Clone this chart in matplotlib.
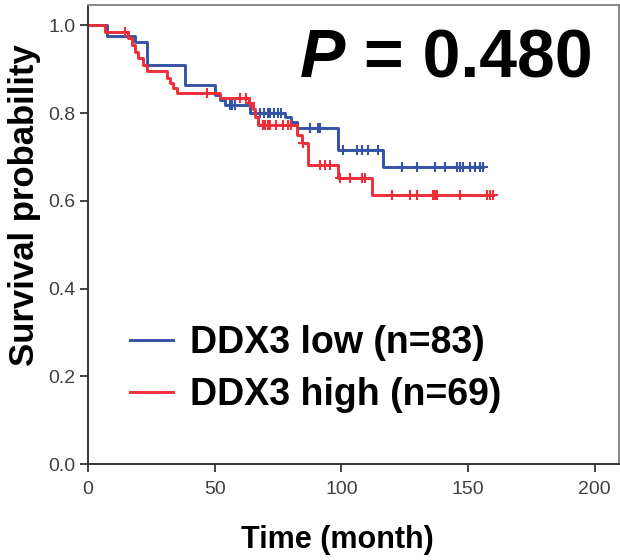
import numpy as np
import matplotlib.pyplot as plt

plt.rcParams['font.family'] = ['Liberation Sans', 'DejaVu Sans']

# Kaplan-Meier step data (time in months, survival after the step)
low_times = [0, 7.5, 18.5, 23.3, 38.3, 50, 52, 54, 64, 77.7, 80, 82.5, 98.7, 116.4, 156]
low_surv = [1.0, 0.976, 0.962, 0.909, 0.863, 0.840, 0.829, 0.818, 0.800, 0.790, 0.779,
            0.765, 0.715, 0.677, 0.677]
low_censor = [56, 57, 58, 68, 69.5, 71, 72, 73.5, 75, 76, 87.6, 90.8, 91.6,
              100.6, 106, 108, 110.5, 114.4, 124, 130, 137, 141, 145.6, 146.8,
              148, 150.7, 152.7, 154.7, 156]

high_times = [0, 6.7, 15.8, 17.4, 18.5, 19.7, 21.7, 23.3, 31.2, 32.4, 33.5, 35.1, 52,
              63.5, 65, 66, 67, 82.5, 84.5, 87, 98.7, 112, 160]
high_surv = [1.0, 0.985, 0.970, 0.955, 0.940, 0.925, 0.910, 0.895, 0.879, 0.868, 0.856,
             0.845, 0.834, 0.822, 0.810, 0.790, 0.772, 0.749, 0.731, 0.681, 0.651,
             0.613, 0.613]
high_censor = [14.6, 47, 60, 62.5, 64, 69, 70, 71, 72, 74, 77, 79, 80, 85,
               91.5, 93.5, 95.5, 99.5, 103.4, 108, 109.3, 120, 127, 130, 136, 137,
               137.7, 146.8, 157.5, 158.6, 160]

labels = ['DDX3 low (n=83)', 'DDX3 high (n=69)']
colors = ['#3553a6', '#ee2e38']
p_label = '0.480'


def surv_at(times, surv, t):
    idx = np.searchsorted(times, t, side='right') - 1
    return np.asarray(surv)[idx]


fig = plt.figure(figsize=(6.2, 5.6), dpi=100)
ax = fig.add_axes([0.142, 0.171, 0.856, 0.820])

groups = [(low_times, low_surv, low_censor), (high_times, high_surv, high_censor)]
for (times, surv, cens), lab, col in zip(groups, labels, colors):
    ax.step(times, surv, where='post', color=col, lw=2.1, label=lab)
    ax.plot(cens, surv_at(times, surv, cens), ls='none', marker='+',
            ms=7, mew=1.5, color=col)

ax.set_xlim(0, 209.5)
ax.set_ylim(0, 1.046)
ax.set_xticks([0, 50, 100, 150, 200])
ax.set_yticks([0.0, 0.2, 0.4, 0.6, 0.8, 1.0])
ax.set_yticklabels(['0.0', '0.2', '0.4', '0.6', '0.8', '1.0'])
ax.tick_params(direction='out', length=6, width=1.3, color='#333333',
               labelsize=14, labelcolor='#404040', pad=3)
ax.tick_params(axis='x', pad=6)
for s in ax.spines.values():
    s.set_color('#333333')
    s.set_linewidth(1.4)
ax.spines['top'].set_color('#888888')
ax.spines['right'].set_color('#888888')

ax.set_xlabel('Time (month)', fontsize=22, fontweight='bold')
ax.xaxis.set_label_coords(0.469, -0.166)
ax.xaxis.label.set_va('center')
ax.set_ylabel('Survival probability', fontsize=25, fontweight='bold')
ax.yaxis.set_label_coords(-0.12, 0.565)
ax.yaxis.label.set_va('center')

leg = ax.legend(loc='upper left', bbox_to_anchor=(0.05, 0.335), frameon=False,
                prop={'size': 27, 'weight': 'bold'}, handlelength=1.15,
                handletextpad=0.45, labelspacing=0.42, borderaxespad=0)

ptxt = fig.text(0.484, 0.862, 'P', fontsize=49, fontweight='bold',
                fontstyle='italic', ha='left', va='baseline')
ax.annotate(' = ' + p_label, xy=(1, 0), xycoords=ptxt, fontsize=49,
            fontweight='bold', ha='left', va='bottom')

fig.savefig('out.png', dpi=100)
